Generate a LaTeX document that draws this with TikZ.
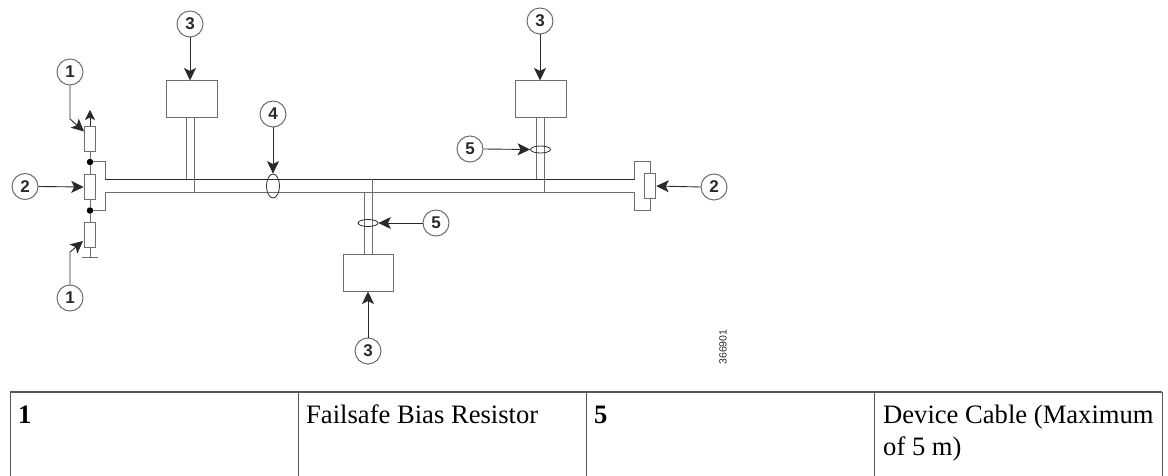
\documentclass[tikz,border=0pt]{standalone}
\usepackage{fontspec}
\setmainfont{Liberation Serif}
\newfontfamily\lblfont{Liberation Sans}
\usetikzlibrary{arrows.meta,shapes.geometric}
\definecolor{ln}{HTML}{2A2A2A}
\definecolor{lg}{HTML}{6E6E6E}
\definecolor{tb}{HTML}{555555}
\tikzset{
  wire/.style={draw=ln,line width=0.9pt},
  gwire/.style={draw=lg,line width=1pt},
  arr/.style={draw=ln,line width=0.9pt,-{Stealth[length=12.5pt,width=12pt,inset=3pt]}},
  call/.style={circle,draw=lg,line width=1pt,minimum size=26pt,inner sep=0pt,fill=white,font=\lblfont\bfseries\fontsize{17}{17}\selectfont,text=ln},
  unitbox/.style={rectangle,draw=lg,line width=1pt,minimum width=51pt,minimum height=37pt,inner sep=0pt},
  res/.style={rectangle,draw=lg,line width=1pt,minimum width=11.5pt,minimum height=24.5pt,inner sep=0pt,fill=white},
  dotn/.style={circle,fill=black,minimum size=6.5pt,inner sep=0pt},
  ring/.style={ellipse,draw=ln,line width=0.8pt,inner sep=0pt},
  cell/.style={anchor=base west,inner sep=0pt,font=\fontsize{26.6}{26.6}\selectfont,text=black},
  bcell/.style={anchor=base west,inner sep=0pt,font=\bfseries\fontsize{26.6}{26.6}\selectfont,text=black},
  tline/.style={draw=tb,line width=1pt}
}
\begin{document}
\begin{tikzpicture}[x=1pt,y=-1pt]
\useasboundingbox (0,0) rectangle (1168,476);
% coordinates
\coordinate (busLT) at (105,179.5);
\coordinate (busLB) at (105,193);
\coordinate (busRT) at (634.5,179.5);
\coordinate (busRB) at (634.5,193);
\coordinate (busCT) at (372,179.5);
\coordinate (busCB) at (364,193);
% bus
\draw[wire] (busLT) -- (busRT);
\draw[gwire] (busLB) -- (busRB);
% left resistors
\node[res] (r1) at (90,139) {};
\node[res] (r2) at (90,187) {};
\node[res] (r3) at (90,235) {};
\node[dotn] (d1) at (90,162) {};
\node[dotn] (d2) at (90,210.5) {};
\coordinate (vcc) at (90,110);
\coordinate (gnd) at (90,257);
\coordinate (gndL) at (82,257);
\coordinate (gndR) at (98,257);
\draw[gwire] (r1.south) -- (d1) -- (r2.north);
\draw[gwire] (r2.south) -- (d2) -- (r3.north);
\draw[gwire] (r3.south) -- (gnd);
\draw[gwire] (gndL) -- (gndR);
\draw[draw=ln,line width=0.9pt,-{Stealth[length=10pt,width=10pt,inset=2.5pt]}] (r1.north) -- (vcc);
\draw[gwire] (d1) -- (105,162) -- (busLT);
\draw[gwire] (d2) -- (105,210.5) -- (busLB);
% right terminator
\node[res] (r4) at (650,186) {};
\draw[gwire] (busRT) -- (634.5,162) -- (650,162) -- (r4.north);
\draw[gwire] (busRB) -- (634.5,210.5) -- (650,210.5) -- (r4.south);
% devices
\node[unitbox] (b1) at (191.5,99.5) {};
\node[unitbox] (b2) at (540.5,99.5) {};
\node[unitbox,minimum width=50pt] (b3) at (368,272.5) {};
\draw[gwire] (186,118) -- (186,179.5);
\draw[gwire] (194,118) -- (194,193);
\draw[gwire] (536,118) -- (536,179.5);
\draw[gwire] (544,118) -- (544,193);
\draw[gwire] (busCT) -- (372,254);
\draw[gwire] (busCB) -- (364,254);
% rings
\node[ring,minimum width=13pt,minimum height=24pt] (e4) at (273,186) {};
\node[ring,minimum width=20pt,minimum height=7pt] (e5a) at (540.5,149.5) {};
\node[ring,minimum width=20pt,minimum height=7pt] (e5b) at (368,223) {};
% callouts
\node[call] (c1a) at (70,72) {1};
\node[call] (c1b) at (70,298) {1};
\node[call] (c2a) at (25,186.5) {2};
\node[call] (c2b) at (714,187) {2};
\node[call] (c3a) at (190,24) {3};
\node[call] (c3b) at (540,21) {3};
\node[call] (c3c) at (368,351) {3};
\node[call] (c4) at (273,114) {4};
\node[call] (c5a) at (470,149) {5};
\node[call] (c5b) at (436,223) {5};
\coordinate (k1) at (70,119);
\coordinate (t1) at (84,131.5);
\coordinate (k2) at (70,252);
\coordinate (t2) at (83,241);
\draw[arr] (c1a.south) -- (k1) -- (t1);
\draw[arr] (c1b.north) -- (k2) -- (t2);
\draw[arr] (c2a.east) -- (r2.west);
\draw[arr] (c2b.west) -- (r4.east);
\draw[arr] (c3a.south) -- (b1.north -| c3a);
\draw[arr] (c3b.south) -- (b2.north -| c3b);
\draw[arr] (c3c.north) -- (b3.south);
\draw[arr] (c4.south) -- (e4.north);
\draw[arr] (c5a.east) -- (e5a.west);
\draw[arr] (c5b.west) -- (e5b.east);
% figure number
\node[rotate=90,font=\lblfont\fontsize{10.5}{10.5}\selectfont,text=ln,inner sep=0pt] (fig) at (723,347) {366901};
% table
\coordinate (tl) at (10,392);
\coordinate (tr) at (1162,392);
\coordinate (bl) at (10,476);
\coordinate (br) at (1162,476);
\draw[tb,line width=2pt] (tl) -- (tr);
\draw[tline] (tl) -- (bl);
\draw[tline] (298,392) -- (298,476);
\draw[tline] (586,392) -- (586,476);
\draw[tline] (874,392) -- (874,476);
\draw[tline] (tr) -- (br);
\node[bcell] (t11) at (18,423) {1};
\node[cell] (t12) at (306,423) {Failsafe Bias Resistor};
\node[bcell] (t13) at (594,423) {5};
\node[cell] (t14) at (883,423) {Device Cable (Maximum};
\node[cell] (t15) at (883,455) {of 5 m)};
\end{tikzpicture}
\end{document}
